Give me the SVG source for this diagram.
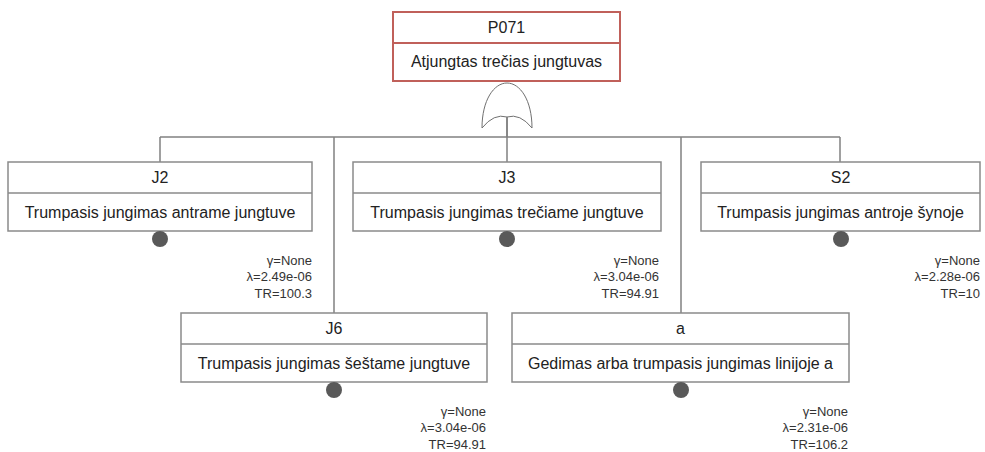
<svg xmlns="http://www.w3.org/2000/svg" width="985" height="452" viewBox="0 0 985 452">
  <style>
    .box { fill: #ffffff; stroke: #8a8a8a; stroke-width: 1.5; }
    .top { fill: #ffffff; stroke: #c0605a; stroke-width: 2; }
    .div { stroke: #8a8a8a; stroke-width: 1.5; }
    .divr { stroke: #c0605a; stroke-width: 2; }
    .ttl { font-family: "Liberation Sans", Arial, sans-serif; font-size: 16px; fill: #222222; text-anchor: middle; }
    .prm { font-family: "Liberation Sans", Arial, sans-serif; font-size: 13px; fill: #333333; text-anchor: end; }
    .dot { fill: #595959; }
    .ln { stroke: #808080; stroke-width: 1.5; fill: none; }
    .gate { stroke: #707070; stroke-width: 1; fill: #ffffff; }
  </style>

  <!-- connectors -->
  <g id="connectors">
    <line class="ln" x1="160" y1="137" x2="840" y2="137"/>
    <line class="ln" x1="507" y1="117" x2="507" y2="162"/>
    <line class="ln" x1="160" y1="137" x2="160" y2="162"/>
    <line class="ln" x1="334" y1="137" x2="334" y2="313"/>
    <line class="ln" x1="681" y1="137" x2="681" y2="313"/>
    <line class="ln" x1="840" y1="137" x2="840" y2="162"/>
  </g>

  <!-- OR gate -->
  <g id="gate">
    <path class="gate" d="M482,128 C482,100 494,83 507,83 C520,83 532,100 532,128 Q520,113 507,117 Q494,113 482,128 Z"/>
    <line class="ln" x1="507" y1="117" x2="507" y2="137"/>
  </g>

  <!-- top event -->
  <g id="P071">
    <rect class="top" x="393" y="12" width="227" height="69"/>
    <line class="divr" x1="393" y1="43" x2="620" y2="43"/>
    <text class="ttl" x="506.5" y="33">P071</text>
    <text class="ttl" x="506.5" y="67">Atjungtas trečias jungtuvas</text>
  </g>

  <g id="J2">
    <rect class="box" x="8" y="162" width="304" height="69"/>
    <line class="div" x1="8" y1="193" x2="312" y2="193"/>
    <text class="ttl" x="160" y="183">J2</text>
    <text class="ttl" x="160" y="218">Trumpasis jungimas antrame jungtuve</text>
    <circle class="dot" cx="160" cy="239" r="8"/>
    <text class="prm" x="312" y="264.5">γ=None</text>
    <text class="prm" x="312" y="281">λ=2.49e-06</text>
    <text class="prm" x="312" y="297.5">TR=100.3</text>
  </g>

  <g id="J3">
    <rect class="box" x="353" y="162" width="308" height="69"/>
    <line class="div" x1="353" y1="193" x2="661" y2="193"/>
    <text class="ttl" x="507" y="183">J3</text>
    <text class="ttl" x="507" y="218">Trumpasis jungimas trečiame jungtuve</text>
    <circle class="dot" cx="507" cy="239" r="8"/>
    <text class="prm" x="659" y="264.5">γ=None</text>
    <text class="prm" x="659" y="281">λ=3.04e-06</text>
    <text class="prm" x="659" y="297.5">TR=94.91</text>
  </g>

  <g id="S2">
    <rect class="box" x="701" y="162" width="279" height="69"/>
    <line class="div" x1="701" y1="193" x2="980" y2="193"/>
    <text class="ttl" x="840.5" y="183">S2</text>
    <text class="ttl" x="840.5" y="218">Trumpasis jungimas antroje šynoje</text>
    <circle class="dot" cx="841" cy="239" r="8"/>
    <text class="prm" x="980" y="264.5">γ=None</text>
    <text class="prm" x="980" y="281">λ=2.28e-06</text>
    <text class="prm" x="980" y="297.5">TR=10</text>
  </g>

  <g id="J6">
    <rect class="box" x="181" y="313" width="306" height="69"/>
    <line class="div" x1="181" y1="344" x2="487" y2="344"/>
    <text class="ttl" x="334" y="334">J6</text>
    <text class="ttl" x="334" y="369">Trumpasis jungimas šeštame jungtuve</text>
    <circle class="dot" cx="334" cy="390" r="8"/>
    <text class="prm" x="486" y="415.5">γ=None</text>
    <text class="prm" x="486" y="432">λ=3.04e-06</text>
    <text class="prm" x="486" y="448.5">TR=94.91</text>
  </g>

  <g id="a">
    <rect class="box" x="512" y="313" width="337" height="69"/>
    <line class="div" x1="512" y1="344" x2="849" y2="344"/>
    <text class="ttl" x="680.5" y="334">a</text>
    <text class="ttl" x="680.5" y="369">Gedimas arba trumpasis jungimas linijoje a</text>
    <circle class="dot" cx="681" cy="390" r="8"/>
    <text class="prm" x="848" y="415.5">γ=None</text>
    <text class="prm" x="848" y="432">λ=2.31e-06</text>
    <text class="prm" x="848" y="448.5">TR=106.2</text>
  </g>
</svg>
